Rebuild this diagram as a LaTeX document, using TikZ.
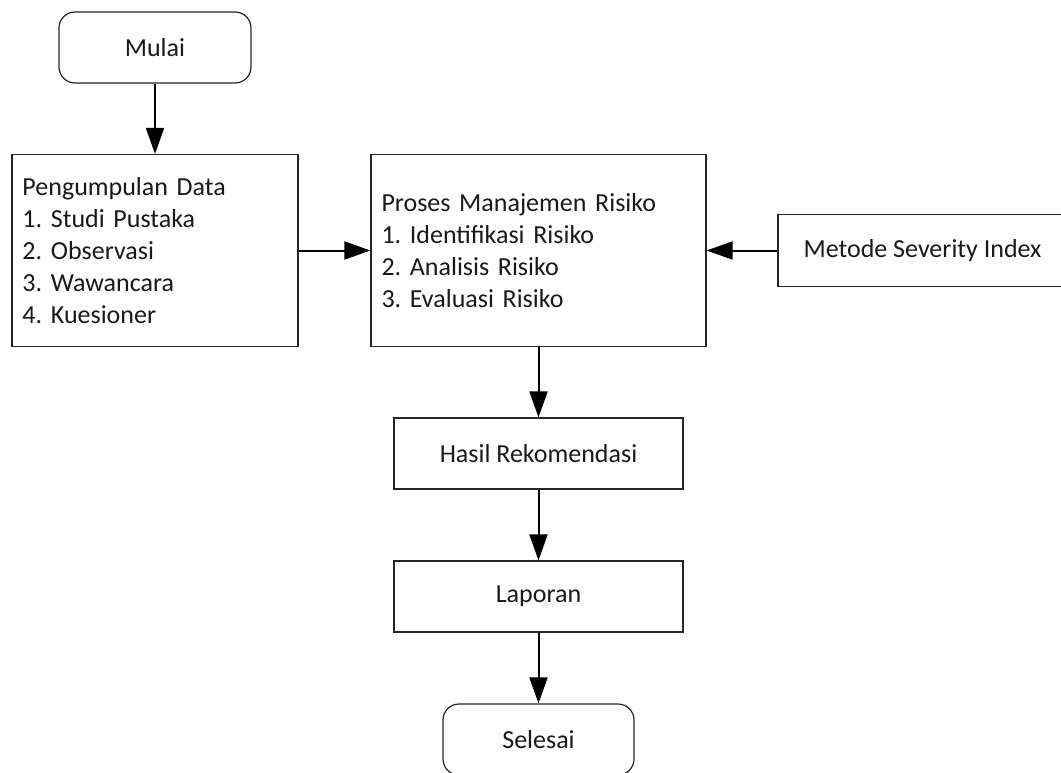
\documentclass[tikz,border=0pt]{standalone}
\usepackage{fontspec}
\setmainfont{Carlito}
\usetikzlibrary{arrows.meta}
\frenchspacing
\tikzset{
  box/.style={draw=black!85, line width=1.2pt, rectangle, inner sep=0pt,
    font=\fontsize{26}{32}\selectfont, text=black!90},
  listbox/.style={box, align=left, inner xsep=10.5pt},
  term/.style={box, rounded corners=16pt},
  flow/.style={line width=2pt, -{Triangle[length=26pt,width=18pt]}}
}
\begin{document}
\begin{tikzpicture}[x=1pt,y=-1pt]
\useasboundingbox (0,0) rectangle (1061,773);
\clip (0,0) rectangle (1061,773);
\node[term, minimum width=192pt, minimum height=71pt] (mulai) at (155,47.5) {Mulai};
\node[listbox, text width=265pt, minimum height=192pt] (peng) at (155,250.5)
  {Pengumpulan Data\\1. Studi Pustaka\\2. Observasi\\3. Wawancara\\4. Kuesioner};
\node[listbox, text width=314pt, minimum height=192pt] (proses) at (538.5,250.5)
  {Proses Manajemen Risiko\\1. Identifikasi Risiko\\2. Analisis Risiko\\3. Evaluasi Risiko};
\node[box, minimum width=289pt, minimum height=72pt] (metode) at (922.5,250.5) {Metode Severity Index};
\node[box, minimum width=289pt, minimum height=71pt] (hasil) at (538.5,453.5) {Hasil Rekomendasi};
\node[box, minimum width=289pt, minimum height=71pt] (laporan) at (538.5,596.5) {Laporan};
\node[term, minimum width=191pt, minimum height=71pt] (selesai) at (538.5,739.5) {Selesai};
\draw[flow] (mulai) -- (peng);
\draw[flow] (peng) -- (proses);
\draw[flow] (metode) -- (proses);
\draw[flow] (proses) -- (hasil);
\draw[flow] (hasil) -- (laporan);
\draw[flow] (laporan) -- (selesai);
\end{tikzpicture}
\end{document}
